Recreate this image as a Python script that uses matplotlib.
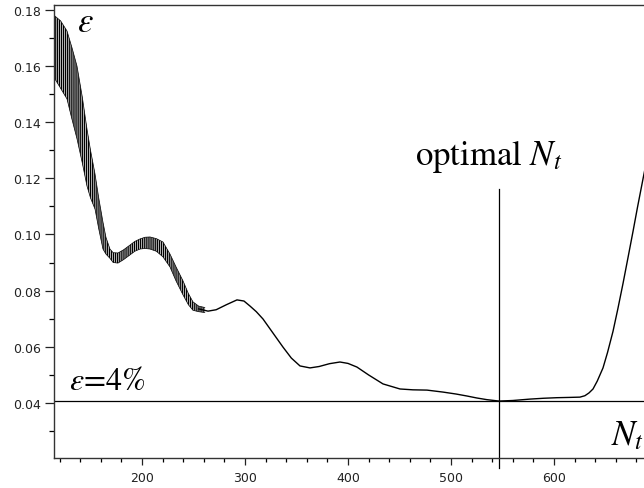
import matplotlib
matplotlib.use("Agg")
import matplotlib.pyplot as plt
from matplotlib.ticker import MultipleLocator, FormatStrFormatter

plt.rcParams["mathtext.fontset"] = "stix"
plt.rcParams["hatch.linewidth"] = 1.0

# oscillating start of the curve: upper / lower envelope
band_x = [115.5, 121, 127.2, 132, 136.9, 142, 146.6, 150, 154.4, 158, 162.1, 165,
          168.9, 172, 176.7, 182, 188.3, 193, 198.1, 203, 207.8, 214, 220.4, 227.2,
          233, 239.8, 245, 249.5, 255, 261]
band_hi = [0.1777, 0.1760, 0.1724, 0.1665, 0.1599, 0.1490, 0.1375, 0.1300, 0.1215,
           0.1130, 0.1044, 0.0990, 0.0948, 0.0935, 0.0934, 0.0945, 0.0962, 0.0975,
           0.0984, 0.0990, 0.0991, 0.0985, 0.0973, 0.0930, 0.0885, 0.0835, 0.0790,
           0.0760, 0.0745, 0.0740]
band_lo = [0.1553, 0.1520, 0.1482, 0.1410, 0.1340, 0.1255, 0.1172, 0.1130, 0.1090,
           0.1020, 0.0948, 0.0930, 0.0915, 0.0900, 0.0898, 0.0910, 0.0927, 0.0940,
           0.0948, 0.0950, 0.0948, 0.0940, 0.0920, 0.0884, 0.0835, 0.0785, 0.0750,
           0.0730, 0.0725, 0.0722]

# smooth part of the curve
line_x = [255, 264.1, 272, 282, 292.2, 299, 304.9, 311, 317.5, 327, 336.9, 345,
          353.4, 363.1, 372, 382, 392.2, 400, 408.7, 420, 434, 450.5, 463, 476.7,
          492.2, 505, 515.5, 525, 534.9, 546.6, 560, 576.7, 590, 602.9, 615, 625.2,
          630, 634, 637.9, 642, 647.6, 652, 657.3, 662, 667, 672, 676.7,
          681, 686.4, 692]
line_y = [0.0735, 0.0727, 0.0732, 0.0750, 0.0767, 0.0763, 0.0745, 0.0725, 0.0699,
          0.0650, 0.0599, 0.0560, 0.0532, 0.0525, 0.0530, 0.0540, 0.0546, 0.0541,
          0.0528, 0.0500, 0.0468, 0.0450, 0.0447, 0.0446, 0.0439, 0.0432, 0.0425,
          0.0418, 0.0412, 0.0407, 0.0409, 0.0414, 0.0417, 0.0419, 0.0420, 0.0421,
          0.0426, 0.0436, 0.0450, 0.0478, 0.0525, 0.0580, 0.0655, 0.0735, 0.0825,
          0.0920, 0.1010, 0.1095, 0.1197, 0.1300]

eps_level = 0.0407
optimal_nt = 547
optimal_top = 0.1163

fig = plt.figure(figsize=(6.44, 4.89), dpi=100)
ax = fig.add_axes([0.0839, 0.0613, 0.9161, 0.9264])

ax.fill_between(band_x, band_lo, band_hi, facecolor="none", edgecolor="black",
                linewidth=0, hatch="|" * 8)
ax.plot(band_x, band_hi, color="black", linewidth=0.5)
ax.plot(band_x, band_lo, color="black", linewidth=0.5)
ax.plot(line_x, line_y, color="black", linewidth=1.0)

ax.axhline(eps_level, color="black", linewidth=0.9)
ax.plot([optimal_nt, optimal_nt], [0.0168, optimal_top], color="black",
        linewidth=0.9, clip_on=False)

ax.set_xlim(114.6, 687.4)
ax.set_ylim(0.02043, 0.18164)

ax.spines["right"].set_visible(False)
for s in ["left", "bottom", "top"]:
    ax.spines[s].set_color("#333333")
    ax.spines[s].set_linewidth(1.0)

ax.xaxis.set_major_locator(MultipleLocator(100))
ax.xaxis.set_minor_locator(MultipleLocator(20))
ax.yaxis.set_major_locator(MultipleLocator(0.02))
ax.yaxis.set_minor_locator(MultipleLocator(0.01))
ax.yaxis.set_major_formatter(FormatStrFormatter("%.2f"))
ax.tick_params(axis="x", which="major", direction="out", length=5, width=0.9,
               pad=4, labelsize=9, colors="#222222", top=False)
ax.tick_params(axis="x", which="minor", direction="out", length=3, width=0.9,
               top=False)
ax.tick_params(axis="y", which="major", direction="out", length=6.5, width=0.9,
               pad=3, labelsize=9, colors="#222222", right=False)
ax.tick_params(axis="y", which="minor", direction="out", length=3.5, width=0.9,
               right=False)

serif = "STIXGeneral"
ax.text(0.039, 0.9426, r"$\varepsilon$", transform=ax.transAxes, fontsize=25,
        family=serif, ha="left", va="baseline")
ax.text(0.026, 0.152, r"$\varepsilon$=4%", transform=ax.transAxes, fontsize=23,
        family=serif, ha="left", va="baseline")
ax.text(0.612, 0.648, r"optimal $N_t$", transform=ax.transAxes, fontsize=25,
        family=serif, ha="left", va="baseline")
ax.text(1.0, 0.03, r"$N_t$", transform=ax.transAxes, fontsize=25,
        family=serif, ha="right", va="baseline")

fig.savefig("out.png", dpi=100)
